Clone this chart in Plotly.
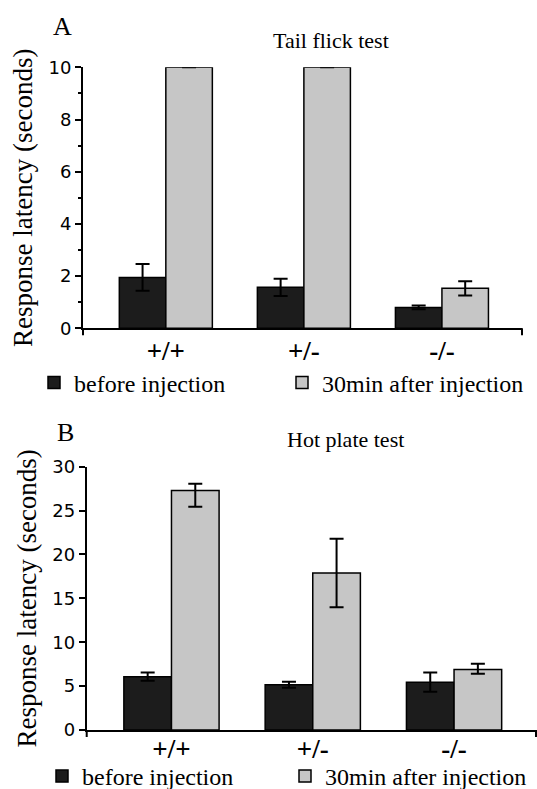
import plotly.graph_objects as go

genotypes = ["+/+", "+/-", "-/-"]

# Panel A: Tail flick test
tail_before = [1.95, 1.57, 0.80]
tail_before_err = [0.51, 0.33, 0.07]
tail_after = [10.0, 10.0, 1.53]
tail_after_err = [None, None, 0.27]

# Panel B: Hot plate test
hot_before = [6.07, 5.15, 5.45]
hot_before_err = [0.47, 0.35, 1.1]
hot_after = [27.3, 17.9, 6.9]
hot_after_err_plus = [0.75, 3.9, 0.65]
hot_after_err_minus = [1.85, 3.9, 0.5]

series_names = ["before injection", "30min after injection"]

W, H = 537, 789
def fx(p):
    return p / W
def fy(p):
    return 1 - p / H

BLACK = "#1c1c1c"
GRAY = "#c6c6c6"
SERIF = "Liberation Serif"
SANS = "DejaVu Sans"

fig = go.Figure()

def err(arr, arrminus=None):
    d = dict(type="data", array=arr, visible=True, color="black", thickness=2, width=7)
    if arrminus is not None:
        d["symmetric"] = False
        d["arrayminus"] = arrminus
    return d

fig.add_trace(go.Bar(x=genotypes, y=tail_before, name=series_names[0], xaxis="x", yaxis="y",
                     marker=dict(color=BLACK, line=dict(color="black", width=1.5)),
                     error_y=err(tail_before_err), legend="legend"))
fig.add_trace(go.Bar(x=genotypes, y=tail_after, name=series_names[1], xaxis="x", yaxis="y",
                     marker=dict(color=GRAY, line=dict(color="black", width=1.5)),
                     error_y=err(tail_after_err), legend="legend"))
fig.add_trace(go.Bar(x=genotypes, y=hot_before, name=series_names[0], xaxis="x2", yaxis="y2",
                     marker=dict(color=BLACK, line=dict(color="black", width=1.5)),
                     error_y=err(hot_before_err), legend="legend2"))
fig.add_trace(go.Bar(x=genotypes, y=hot_after, name=series_names[1], xaxis="x2", yaxis="y2",
                     marker=dict(color=GRAY, line=dict(color="black", width=1.5)),
                     error_y=err(hot_after_err_plus, hot_after_err_minus), legend="legend2"))

xcommon = dict(type="category", range=[-0.6, 2.58], showline=True, linecolor="black", linewidth=2,
               ticks="", showgrid=False, zeroline=False, automargin=False,
               tickfont=dict(family=SERIF, size=27, color="black", weight=700),
               fixedrange=True)
ycommon = dict(showline=True, linecolor="black", linewidth=2, ticks="outside", ticklen=6,
               tickwidth=2, tickcolor="black", showgrid=False, zeroline=False, automargin=False,
               tickfont=dict(family=SANS, size=18, color="black"), fixedrange=True,
               title=dict(text="Response latency (seconds)", standoff=8,
                          font=dict(family=SERIF, size=27, color="black")))

legcommon = dict(orientation="h", xanchor="left", yanchor="middle", bgcolor="rgba(0,0,0,0)",
                 font=dict(family=SERIF, size=24, color="black"), entrywidthmode="pixels",
                 traceorder="normal", borderwidth=0)

def label(text, x, y, size):
    return dict(text=text, x=fx(x), y=fy(y), xref="paper", yref="paper", showarrow=False,
                xanchor="center", yanchor="middle", font=dict(family=SERIF, size=size, color="black"))

fig.update_layout(
    width=W, height=H, margin=dict(l=0, r=0, t=0, b=0, autoexpand=False),
    paper_bgcolor="white", plot_bgcolor="white",
    barmode="group", bargap=0.326, bargroupgap=0,
    xaxis=dict(domain=[fx(83), fx(522)], anchor="y", ticklabelstandoff=-3, **xcommon),
    yaxis=dict(domain=[fy(328.3), fy(67.3)], anchor="x", range=[0, 10], dtick=2,
               minor=dict(dtick=1, ticks="outside", ticklen=3, tickwidth=2, tickcolor="black"),
               **ycommon),
    xaxis2=dict(domain=[fx(86.7), fx(536)], anchor="y2", ticklabelstandoff=-6, **xcommon),
    yaxis2=dict(domain=[fy(730), fy(466.7)], anchor="x2", range=[0, 30], dtick=5, **ycommon),
    legend=dict(x=fx(34), y=fy(383), entrywidth=203, **legcommon),
    legend2=dict(x=fx(42), y=fy(776.5), entrywidth=198, **legcommon),
    annotations=[
        label("A", 62, 27, 26),
        label("Tail flick test", 331, 41, 22),
        label("B", 65, 433, 26),
        label("Hot plate test", 345, 440, 22),
    ],
    shapes=[
        dict(type="line", xref="x domain", yref="y domain", x0=0, x1=0, y0=0, y1=-7/261,
             line=dict(color="black", width=2)),
        dict(type="line", xref="x domain", yref="y domain", x0=1, x1=1, y0=0, y1=-7/261,
             line=dict(color="black", width=2)),
        dict(type="line", xref="x2 domain", yref="y2 domain", x0=0, x1=0, y0=0, y1=-7/263,
             line=dict(color="black", width=2)),
        dict(type="line", xref="x2 domain", yref="y2 domain", x0=1, x1=1, y0=0, y1=-7/263,
             line=dict(color="black", width=2)),
    ],
)

fig.write_html("out.html", config={"displayModeBar": False},
               post_script="document.body.style.margin='0';document.body.style.overflow='hidden';")
